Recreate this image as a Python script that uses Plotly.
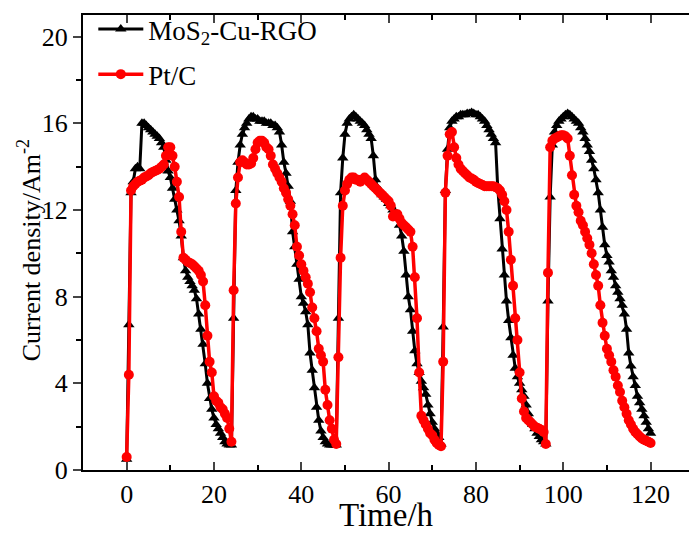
import plotly.graph_objects as go

# ---------------- data (time in h, current density in A m^-2) ----------------
MOS2_C1 = [(0, 0.5), (0.5, 6.7), (1, 12.8), (1.5, 13.3), (2, 13.9), (2.5, 14.0), (3, 13.9), (3.5, 16.0),
           (4, 16.0), (4.5, 15.9), (5, 15.8), (5.5, 15.7), (6, 15.6), (6.5, 15.5), (7, 15.4), (7.5, 15.3),
           (8, 15.1), (8.5, 14.9), (9, 14.3), (9.5, 13.8), (10, 13.5), (10.5, 13.0), (11, 12.5), (11.5, 12.0),
           (12, 11.5), (12.5, 10.8), (13, 9.8), (13.5, 9.2), (14, 8.9), (14.5, 8.7), (15, 8.5), (15.5, 8.3),
           (16, 7.9), (16.5, 7.2), (17, 6.5), (17.5, 5.8), (18, 4.9), (18.5, 4.0), (19, 3.3), (19.5, 2.8),
           (20, 2.4), (20.5, 2.1), (21, 1.9), (21.5, 1.7), (22, 1.5), (22.5, 1.3), (23, 1.2), (23.5, 1.15),
           (24, 1.15)]
MOS2_C2 = [(24.5, 7.0), (25, 12.9), (25.5, 14.2), (26, 15.0), (26.5, 15.5), (27, 15.8), (27.5, 16.0),
           (28, 16.2), (28.5, 16.3), (29, 16.3), (29.5, 16.2), (30, 16.2), (30.5, 16.1), (31, 16.1),
           (31.5, 16.1), (32, 16.0), (32.5, 16.0), (33, 16.0), (33.5, 15.9), (34, 15.9), (34.5, 15.8),
           (35, 15.6), (35.5, 15.0), (36, 14.2), (36.5, 13.7), (37, 13.1), (37.5, 12.4), (38, 11.0),
           (38.5, 10.3), (39, 9.5), (39.5, 8.8), (40, 8.0), (40.5, 7.7), (41, 7.3), (41.5, 6.7), (42, 5.4),
           (42.5, 4.6), (43, 3.8), (43.5, 2.9), (44, 2.3), (44.5, 1.8), (45, 1.5), (45.5, 1.3), (46, 1.2),
           (46.5, 1.15), (47, 1.15), (47.5, 1.15), (48, 1.15)]
MOS2_C3 = [(48.5, 7.0), (49, 12.8), (49.5, 14.4), (50, 15.5), (50.5, 16.0), (51, 16.2), (51.5, 16.3),
           (52, 16.4), (52.5, 16.3), (53, 16.2), (53.5, 16.1), (54, 16.0), (54.5, 15.9), (55, 15.7),
           (55.5, 15.5), (56, 15.3), (56.5, 14.5), (57, 13.4), (57.5, 13.0), (58, 12.9), (58.5, 12.7),
           (59, 12.6), (59.5, 12.5), (60, 12.3), (60.5, 12.2), (61, 12.0), (61.5, 11.9), (62, 11.8),
           (62.5, 11.3), (63, 10.8), (63.5, 10.1), (64, 9.0), (64.5, 8.0), (65, 7.4), (65.5, 6.4), (66, 5.5),
           (66.5, 4.9), (67, 4.5), (67.5, 4.1), (68, 3.8), (68.5, 3.5), (69, 3.0), (69.5, 2.6), (70, 2.2),
           (70.5, 1.9), (71, 1.7), (71.5, 1.5), (72, 1.2)]
MOS2_C4 = [(72.5, 6.6), (73, 12.9), (73.5, 14.8), (74, 15.8), (74.5, 16.1), (75, 16.2), (75.5, 16.3),
           (76, 16.3), (76.5, 16.4), (77, 16.4), (77.5, 16.4), (78, 16.45), (78.5, 16.45), (79, 16.5),
           (79.5, 16.45), (80, 16.4), (80.5, 16.4), (81, 16.3), (81.5, 16.2), (82, 16.1), (82.5, 15.9),
           (83, 15.7), (83.5, 15.5), (84, 15.3), (84.5, 15.1), (85, 13.0), (85.5, 11.6), (86, 10.2),
           (86.5, 9.0), (87, 7.8), (87.5, 6.9), (88, 6.1), (88.5, 5.3), (89, 4.7), (89.5, 4.3), (90, 4.0),
           (90.5, 3.7), (91, 3.4), (91.5, 3.0), (92, 2.6), (92.5, 2.3), (93, 2.1), (93.5, 1.9), (94, 1.7),
           (94.5, 1.55), (95, 1.4), (95.5, 1.3), (96, 1.2)]
MOS2_C5 = [(96.5, 7.8), (97, 12.6), (97.5, 15.0), (98, 15.6), (98.5, 15.9), (99, 16.1), (99.5, 16.2),
           (100, 16.3), (100.5, 16.4), (101, 16.45), (101.5, 16.4), (102, 16.3), (102.5, 16.2), (103, 16.1),
           (103.5, 16.0), (104, 15.8), (104.5, 15.6), (105, 15.3), (105.5, 15.0), (106, 14.7), (106.5, 14.3),
           (107, 13.9), (107.5, 13.4), (108, 12.8), (108.5, 12.0), (109, 11.2), (109.5, 10.4), (110, 9.9),
           (110.5, 9.6), (111, 9.2), (111.5, 8.9), (112, 8.5), (112.5, 8.2), (113, 7.9), (113.5, 7.6),
           (114, 7.2), (114.5, 6.5), (115, 5.4), (115.5, 4.8), (116, 4.3), (116.5, 3.9), (117, 3.4),
           (117.5, 3.1), (118, 2.8), (118.5, 2.5), (119, 2.2), (119.5, 1.9), (120, 1.7)]

PTC_C1 = [(0, 0.6), (0.5, 4.4), (1, 12.9), (1.5, 13.1), (2, 13.2), (2.5, 13.3), (3, 13.35), (3.5, 13.4),
          (4, 13.5), (4.5, 13.55), (5, 13.6), (5.5, 13.7), (6, 13.75), (6.5, 13.8), (7, 13.85), (7.5, 13.9),
          (8, 14.0), (8.5, 14.1), (9, 14.5), (9.5, 14.9), (10, 14.9), (10.5, 14.5), (11, 14.0), (11.5, 13.3),
          (12, 12.6), (12.5, 11.0), (13, 9.8), (13.5, 9.7), (14, 9.6), (14.5, 9.55), (15, 9.5), (15.5, 9.4),
          (16, 9.3), (16.5, 9.2), (17, 9.0), (17.5, 8.7), (18, 7.6), (18.5, 6.2), (19, 5.0), (19.5, 4.5),
          (20, 3.4), (20.5, 3.2), (21, 3.1), (21.5, 2.9), (22, 2.8), (22.5, 2.6), (23, 2.4), (23.5, 1.9),
          (24, 1.3)]
PTC_C2 = [(24.5, 8.3), (25, 12.3), (25.5, 13.5), (26, 14.2), (26.5, 14.3), (27, 14.2), (27.5, 14.1),
          (28, 14.1), (28.5, 14.15), (29, 14.4), (29.5, 14.8), (30, 15.1), (30.5, 15.2), (31, 15.2),
          (31.5, 15.1), (32, 14.9), (32.5, 14.8), (33, 14.5), (33.5, 14.1), (34, 13.9), (34.5, 13.7),
          (35, 13.5), (35.5, 13.3), (36, 13.0), (36.5, 12.8), (37, 12.5), (37.5, 12.2), (38, 11.8),
          (38.5, 11.3), (39, 10.3), (39.5, 9.9), (40, 9.5), (40.5, 9.2), (41, 8.9), (41.5, 8.6), (42, 8.2),
          (42.5, 7.5), (43, 7.0), (43.5, 6.4), (44, 5.6), (44.5, 5.3), (45, 5.0), (45.5, 3.7), (46, 3.0),
          (46.5, 2.3), (47, 1.9), (47.5, 1.4), (48, 1.2)]
PTC_C3 = [(48.5, 5.2), (49, 9.8), (49.5, 12.2), (50, 12.9), (50.5, 13.2), (51, 13.4), (51.5, 13.5),
          (52, 13.5), (52.5, 13.4), (53, 13.4), (53.5, 13.3), (54, 13.4), (54.5, 13.5), (55, 13.4),
          (55.5, 13.3), (56, 13.2), (56.5, 13.1), (57, 13.0), (57.5, 12.9), (58, 12.8), (58.5, 12.7),
          (59, 12.6), (59.5, 12.5), (60, 12.4), (60.5, 12.2), (61, 11.7), (61.5, 11.8), (62, 11.8),
          (62.5, 11.6), (63, 11.4), (63.5, 11.3), (64, 11.2), (64.5, 11.1), (65, 11.0), (65.5, 10.3),
          (66, 8.9), (66.5, 7.0), (67, 4.5), (67.5, 2.5), (68, 2.3), (68.5, 2.1), (69, 1.9), (69.5, 1.7),
          (70, 1.6), (70.5, 1.4), (71, 1.25), (71.5, 1.15), (72, 1.1)]
PTC_C4 = [(72.5, 5.0), (73, 12.8), (73.5, 14.5), (74, 15.5), (74.5, 15.6), (75, 14.9), (75.5, 14.4),
          (76, 14.1), (76.5, 13.9), (77, 13.8), (77.5, 13.7), (78, 13.6), (78.5, 13.5), (79, 13.45),
          (79.5, 13.4), (80, 13.3), (80.5, 13.25), (81, 13.2), (81.5, 13.15), (82, 13.1), (82.5, 13.1),
          (83, 13.1), (83.5, 13.1), (84, 13.1), (84.5, 13.05), (85, 13.0), (85.5, 12.9), (86, 12.7),
          (86.5, 12.4), (87, 12.0), (87.5, 11.0), (88, 9.7), (88.5, 8.5), (89, 7.0), (89.5, 6.0), (90, 4.5),
          (90.5, 3.3), (91, 2.7), (91.5, 2.4), (92, 2.3), (92.5, 2.2), (93, 2.1), (93.5, 2.0), (94, 1.95),
          (94.5, 1.9), (95, 1.85), (95.5, 1.75), (96, 1.2)]
PTC_C5 = [(96.5, 9.1), (97, 14.9), (97.5, 15.2), (98, 15.3), (98.5, 15.35), (99, 15.4), (99.5, 15.45),
          (100, 15.45), (100.5, 15.4), (101, 15.3), (101.5, 14.5), (102, 13.6), (102.5, 12.7), (103, 12.2),
          (103.5, 11.9), (104, 11.5), (104.5, 11.3), (105, 11.0), (105.5, 10.7), (106, 10.4), (106.5, 10.0),
          (107, 9.5), (107.5, 9.0), (108, 8.5), (108.5, 7.6), (109, 6.8), (109.5, 6.2), (110, 5.6),
          (110.5, 5.3), (111, 5.0), (111.5, 4.6), (112, 4.3), (112.5, 3.9), (113, 3.6), (113.5, 3.2),
          (114, 2.9), (114.5, 2.6), (115, 2.3), (115.5, 2.1), (116, 1.9), (116.5, 1.75), (117, 1.65),
          (117.5, 1.55), (118, 1.45), (118.5, 1.4), (119, 1.35), (119.5, 1.3), (120, 1.25)]

SERIES_NAMES = ["MoS<sub>2</sub>-Cu-RGO", "Pt/C"]
X_TICKS = [0, 20, 40, 60, 80, 100, 120]
Y_TICKS = [0, 4, 8, 12, 16, 20]
X_TITLE = "Time/h"
Y_TITLE = "Current density/Am<sup>-2</sup>"


def split(cycles):
    pts = [p for c in cycles for p in c]
    return [p[0] for p in pts], [p[1] for p in pts]


mos2_t, mos2_v = split([MOS2_C1, MOS2_C2, MOS2_C3, MOS2_C4, MOS2_C5])
ptc_t, ptc_v = split([PTC_C1, PTC_C2, PTC_C3, PTC_C4, PTC_C5])

FONT = "Liberation Serif"

fig = go.Figure()
fig.add_trace(go.Scatter(
    x=mos2_t, y=mos2_v, mode="lines+markers", name=SERIES_NAMES[0], legendgroup="a",
    line=dict(color="black", width=3),
    marker=dict(symbol="triangle-up", size=10, color="black"),
))
fig.add_trace(go.Scatter(
    x=ptc_t, y=ptc_v, mode="lines+markers", name=SERIES_NAMES[1], legendgroup="b",
    line=dict(color="#ff0000", width=3.5),
    marker=dict(symbol="circle", size=10, color="#ff0000"),
))

fig.update_layout(
    width=689, height=533,
    margin=dict(l=83, r=0, t=15, b=63),
    paper_bgcolor="white", plot_bgcolor="white",
    font=dict(family=FONT, color="black"),
    showlegend=True,
    legend=dict(x=0.017, y=1.022, xanchor="left", yanchor="top",
                bgcolor="rgba(0,0,0,0)", font=dict(size=27, family=FONT),
                itemwidth=45, tracegroupgap=7),
    annotations=[dict(
        text=Y_TITLE, textangle=-90, xref="paper", yref="paper",
        x=-0.089, y=0.483, xanchor="center", yanchor="middle", showarrow=False,
        font=dict(size=26, family=FONT, color="black"),
    )],
)
fig.update_xaxes(
    range=[-10, 128.8], tickvals=X_TICKS, ticks="inside", ticklen=8, tickwidth=1.5,
    showline=True, linewidth=2, linecolor="black", mirror="ticks",
    minor=dict(dtick=10, tick0=0, ticks="inside", ticklen=5, tickwidth=1.5, tickcolor="black"),
    showgrid=False, zeroline=False, automargin=False,
    tickfont=dict(size=26, family=FONT),
    title=dict(text=X_TITLE, font=dict(size=33, family=FONT), standoff=13),
)
fig.update_yaxes(
    range=[0, 21], tickvals=Y_TICKS, ticks="outside", ticklen=8, tickwidth=1.5,
    showline=True, linewidth=2, linecolor="black",
    minor=dict(dtick=2, tick0=0, ticks="outside", ticklen=5, tickwidth=1.5, tickcolor="black"),
    showgrid=False, zeroline=False, automargin=False,
    tickfont=dict(size=26, family=FONT),
)

fig.write_html("out.html")
